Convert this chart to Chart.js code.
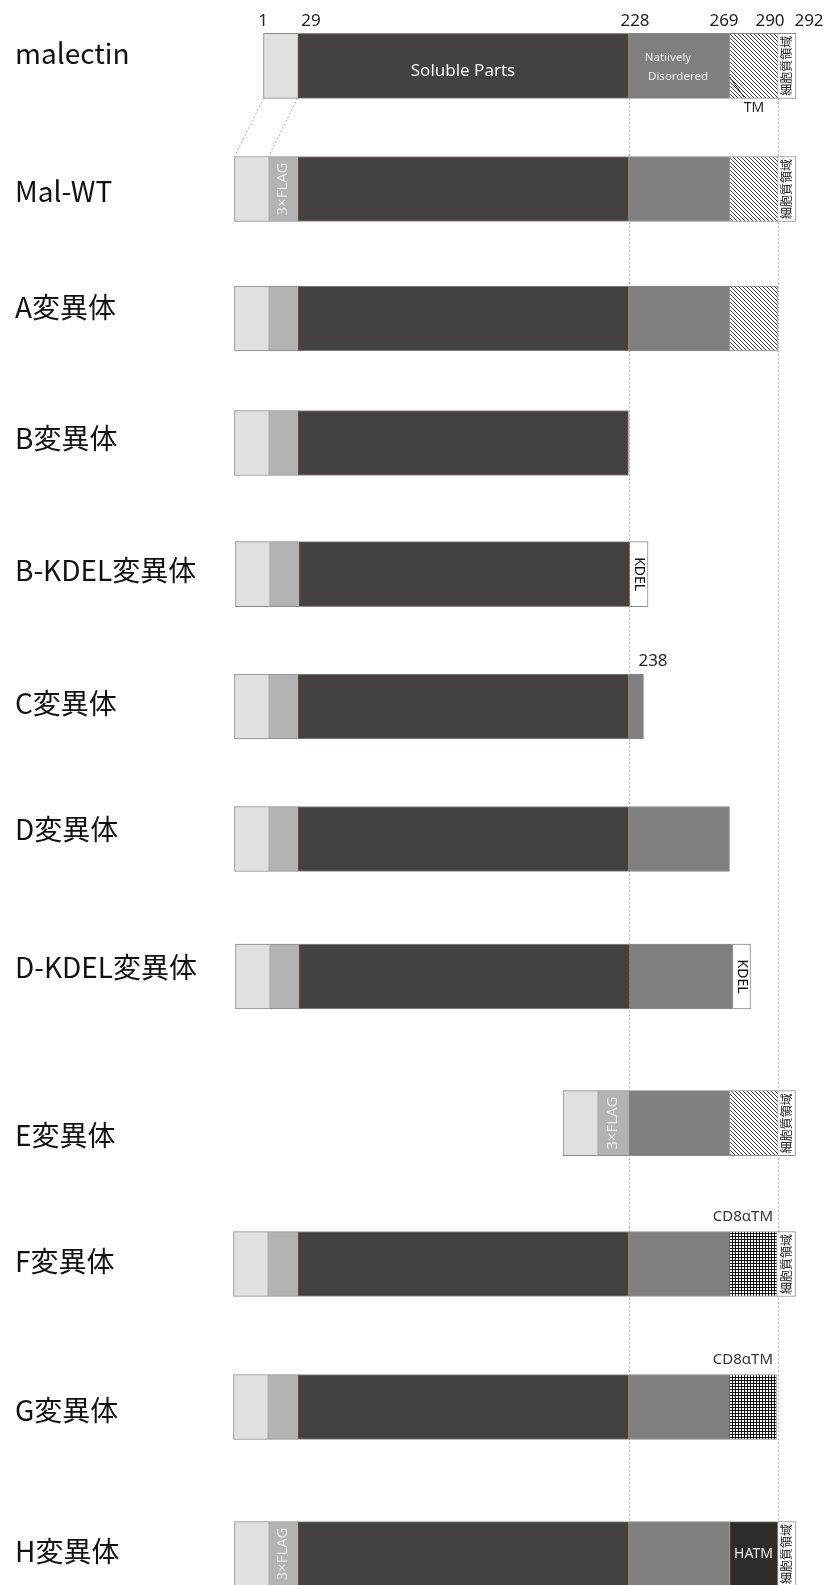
<!DOCTYPE html>
<html lang="ja">
<head>
  <meta charset="UTF-8">
  <title>malectin 変異体</title>
  <style>
    body {
      margin: 0;
      background: #ffffff;
      overflow: hidden;
    }
    #wrap {
      width: 828px;
      height: 1585px;
    }
  </style>
</head>
<body>
  <div id="wrap">
    <canvas id="domains" width="828" height="1585"></canvas>
  </div>

  <script src="https://cdn.jsdelivr.net/npm/chart.js"></script>
  <script>
    // constructs, one row each
    const constructs = ['malectin', 'Mal-WT', 'A変異体', 'B変異体', 'B-KDEL変異体', 'C変異体',
      'D変異体', 'D-KDEL変異体', 'E変異体', 'F変異体', 'G変異体', 'H変異体'];

    // residue numbers printed above malectin / C
    const residueMarks = ['1', '29', '228', '269', '290', '292'];
    const cEndMark = '238';

    // domain spans [start, end] on the diagram axis, null = domain absent
    const signalSpan = [[263.5, 297.5], [234.5, 268.5], [234.5, 268.5], [234.5, 268.5], [235.5, 269.5], [234.5, 268.5],
      [234.5, 268.5], [235.5, 269.5], [563, 597.5], [233.5, 267.5], [233.5, 267.5], [234.5, 268.5]];
    const flagSpan = [null, [268.5, 297.5], [268.5, 297.5], [268.5, 297.5], [269.5, 298.5], [268.5, 297.5],
      [268.5, 297.5], [269.5, 298.5], [597.5, 628.5], [267.5, 297.5], [267.5, 297.5], [268.5, 297.5]];
    const solubleSpan = [[297.5, 628.5], [297.5, 628.5], [297.5, 628.5], [297.5, 628.5], [298.5, 629.5], [297.5, 628.5],
      [297.5, 628.5], [298.5, 629.5], null, [297.5, 628.5], [297.5, 628.5], [297.5, 628.5]];
    const disorderSpan = [[628.5, 729.5], [628.5, 729.5], [628.5, 729.5], null, null, [628.5, 643.5],
      [628.5, 729.5], [629.5, 732.5], [628.5, 729.5], [628.5, 729], [628.5, 729], [628.5, 729.5]];
    const tmSpan = [[729.5, 777.5], [729.5, 777.5], [729.5, 777.5], null, null, null,
      null, null, [729.5, 777.5], null, null, null];
    const cd8Span = [null, null, null, null, null, null, null, null, null, [729, 776.5], [729, 776.5], null];
    const hatmSpan = [null, null, null, null, null, null, null, null, null, null, null, [729.5, 777.5]];
    const kdelSpan = [null, null, null, null, [629.5, 648], null, null, [732.5, 750.5], null, null, null, null];
    const cytoSpan = [[777.5, 796], [777.5, 796], null, null, null, null,
      null, null, [777.5, 795.5], [776.5, 795.5], null, [777.5, 796]];

    // ---- layout (vertical placement of rows / row names) ----
    const rowCenter = [65.8, 189, 318.5, 443, 574.2, 706.5, 839, 976.5, 1123.2, 1264, 1407, 1554];
    const labelY = [53, 191, 307, 438, 570, 703, 829, 967.5, 1135, 1261.5, 1410, 1551.5];
    const markX = [263, 311, 635, 724, 770, 809];

    const ctx = document.getElementById('domains').getContext('2d');

    function tile(size, paint) {
      const c = document.createElement('canvas');
      c.width = c.height = size;
      const g = c.getContext('2d');
      paint(g);
      return ctx.createPattern(c, 'repeat');
    }
    const hatchFill = tile(4, g => {
      g.fillStyle = '#ffffff'; g.fillRect(0, 0, 4, 4);
      g.fillStyle = '#3c3c3c';
      for (let i = 0; i < 4; i++) g.fillRect(i, i, 1, 1);
    });
    const gridFill = tile(3, g => {
      g.fillStyle = '#111111'; g.fillRect(0, 0, 3, 3);
      g.fillStyle = '#ffffff'; g.fillRect(1, 1, 2, 2);
    });

    const allSpans = [signalSpan, flagSpan, solubleSpan, disorderSpan, tmSpan, cd8Span, hatmSpan, kdelSpan, cytoSpan];
    const rowEnd = constructs.map((_, i) => Math.max(...allSpans.map(s => s[i] ? s[i][1] : -1)));

    function segs(span) {
      return span.map((s, i) => s ? { x: s, y: rowCenter[i], row: i } : null).filter(Boolean);
    }

    function domain(label, span, color) {
      return {
        label: label,
        data: segs(span),
        backgroundColor: color,
        borderColor: '#8a8a8a',
        borderWidth: c => ({ top: 1, bottom: 1, left: 1, right: c.raw && c.raw.x[1] === rowEnd[c.raw.row] ? 1 : 0 }),
        borderSkipped: false,
        barThickness: 65,
        grouped: false
      };
    }

    // text, lines and marks that sit on top of the bars
    const annotations = {
      id: 'annotations',
      beforeDatasetsDraw(chart) {
        const { ctx: c, scales: { x, y } } = chart;
        c.save();
        c.strokeStyle = '#b0b0b0';
        c.lineWidth = 1;
        c.setLineDash([2, 2]);
        // guides from malectin down to the constructs
        const top = y.getPixelForValue(rowCenter[0]) + 32.5;
        [solubleSpan[0][1], cytoSpan[0][0]].forEach(v => {
          const px = Math.round(x.getPixelForValue(v)) + 0.5;
          c.beginPath(); c.moveTo(px, top); c.lineTo(px, chart.height); c.stroke();
        });
        const wtTop = y.getPixelForValue(rowCenter[1]) - 32.5;
        [[signalSpan[0][0], signalSpan[1][0]], [signalSpan[0][1], flagSpan[1][0]]].forEach(([a, b]) => {
          c.beginPath();
          c.moveTo(x.getPixelForValue(a), top);
          c.lineTo(x.getPixelForValue(b), wtTop);
          c.stroke();
        });
        c.restore();
      },
      afterDatasetsDraw(chart) {
        const { ctx: c, scales: { x, y } } = chart;
        const mid = s => x.getPixelForValue((s[0] + s[1]) / 2);
        const text = (t, px, py, font, color, rot, align) => {
          c.save();
          c.translate(px, py);
          if (rot) c.rotate(rot);
          c.font = font;
          c.fillStyle = color;
          c.textAlign = align || 'center';
          c.textBaseline = 'middle';
          c.fillText(t, 0, 0);
          c.restore();
        };
        const latin = '"Noto Sans", "Noto Sans CJK JP", sans-serif';
        const cjk = '"Noto Sans CJK JP", "Noto Sans", sans-serif';

        // row names
        constructs.forEach((name, i) => text(name, 15, labelY[i], '28px ' + cjk, '#111111', 0, 'left'));

        // residue numbers
        residueMarks.forEach((m, i) => text(m, markX[i], 21.5, '17px ' + latin, '#222222'));
        text(cEndMark, 653, 661.5, '17px ' + latin, '#222222');

        // malectin captions
        const r0 = y.getPixelForValue(rowCenter[0]);
        text('Soluble Parts', mid(solubleSpan[0]), r0 + 5, '17px ' + latin, '#f2f2f2');
        text('Natiively', 668, r0 - 8, '11.5px ' + latin, '#eeeeee');
        text('Disordered', 678, r0 + 11, '11.5px ' + latin, '#eeeeee');
        text('TM', 754, 108, '14px ' + latin, '#222222');
        c.save();
        c.strokeStyle = '#1a1a1a';
        c.lineWidth = 1;
        c.beginPath(); c.moveTo(729.5, 77); c.lineTo(744, 97); c.stroke();
        c.restore();

        // vertical labels inside the narrow domains
        [1, 8, 11].forEach(i => text('3×FLAG', mid(flagSpan[i]), y.getPixelForValue(rowCenter[i]), '15px ' + latin, '#e6e6e6', -Math.PI / 2));
        cytoSpan.forEach((s, i) => { if (s) text('細胞質領域', mid(s), y.getPixelForValue(rowCenter[i]), '12px ' + cjk, '#222222', -Math.PI / 2); });
        kdelSpan.forEach((s, i) => { if (s) text('KDEL', mid(s), y.getPixelForValue(rowCenter[i]), '14px ' + latin, '#111111', Math.PI / 2); });
        cd8Span.forEach((s, i) => { if (s) text('CD8αTM', 773, y.getPixelForValue(rowCenter[i]) - 47, '15px ' + latin, '#333333', 0, 'right'); });
        hatmSpan.forEach((s, i) => { if (s) text('HATM', mid(s), y.getPixelForValue(rowCenter[i]), '14px ' + latin, '#eeeeee'); });
      }
    };

    new Chart(ctx, {
      type: 'bar',
      data: {
        datasets: [
          domain('signal', signalSpan, '#e0e0e0'),
          domain('3×FLAG', flagSpan, '#b2b3b2'),
          domain('Soluble Parts', solubleSpan, '#454140'),
          domain('Natiively Disordered', disorderSpan, '#7f7f7f'),
          domain('TM', tmSpan, hatchFill),
          domain('CD8αTM', cd8Span, gridFill),
          domain('HATM', hatmSpan, '#2e2c2b'),
          domain('KDEL', kdelSpan, '#ffffff'),
          domain('細胞質領域', cytoSpan, '#ffffff')
        ]
      },
      options: {
        indexAxis: 'y',
        responsive: false,
        animation: false,
        layout: { padding: 0 },
        plugins: {
          legend: { display: false },
          tooltip: { enabled: false }
        },
        scales: {
          x: { type: 'linear', min: 0, max: 828, display: false },
          y: { type: 'linear', min: 0, max: 1585, reverse: true, offset: false, display: false }
        }
      },
      plugins: [annotations]
    });
  </script>
</body>
</html>
